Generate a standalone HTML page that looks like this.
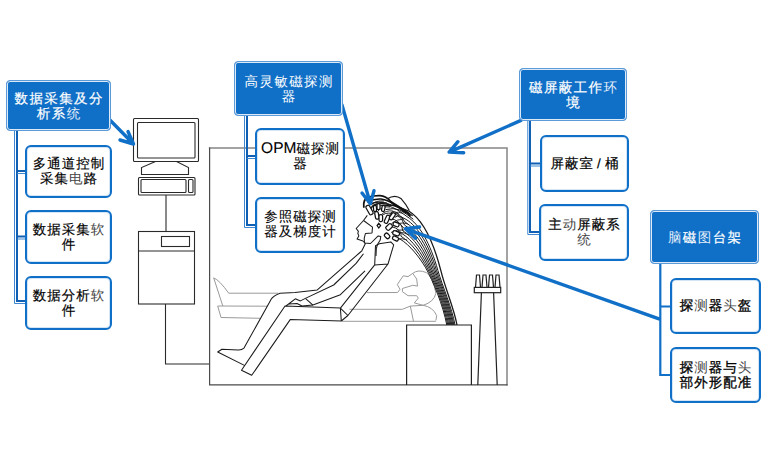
<!DOCTYPE html>
<html><head><meta charset="utf-8">
<style>
html,body{margin:0;padding:0;background:#fff;}
body{width:780px;height:470px;position:relative;overflow:hidden;font-family:"Liberation Sans",sans-serif;text-rendering:geometricPrecision;}
svg.d{position:absolute;left:0;top:0;}
.p{position:absolute;box-sizing:border-box;background:#106FC7;border:1px solid #5d9ad8;box-shadow:inset 0 0 0 1px #dce9f7;border-radius:4px;color:#fff;font-size:13.5px;line-height:15px;letter-spacing:1.4px;text-align:center;display:flex;align-items:center;justify-content:center;}
.c{position:absolute;box-sizing:border-box;background:#fff;border:2px solid #106FC7;box-shadow:inset 0 0 0 1px #d4e5f6;border-radius:6px;color:#000;font-size:13.5px;line-height:15px;letter-spacing:1px;text-align:center;display:flex;align-items:center;justify-content:center;}
.t{display:block;position:relative;top:1.5px;left:0.5px;}
.p .t{left:0.7px;}
.c .t{-webkit-text-stroke:0.18px #000;top:-0.5px;}
.c.bd .t{-webkit-text-stroke:0.32px #000;}
.c.lt .t{-webkit-text-stroke:0.1px #000;top:-1px;}
.p.lt .t{-webkit-text-stroke:0;}
.c .g{color:#444;-webkit-text-stroke:0;}
.p .t{-webkit-text-stroke:0.2px #fff;top:0;}
.p .gw{color:#e4eef9;-webkit-text-stroke:0;}


</style></head><body>
<svg class="d" width="780" height="470" viewBox="0 0 780 470">
  <g fill="none" stroke="#2a2a2a" stroke-width="1.1">
    <!-- monitor -->
    <rect x="133.5" y="118.5" width="65" height="43" rx="1"/>
    <rect x="137.5" y="122.5" width="57.5" height="35.5" rx="1"/>
    <path d="M155.5 161.5 L141.5 167.5 L141.5 174.5 L188.5 174.5 L188.5 167.5 L176.5 161.5"/>
    <rect x="138.5" y="177.5" width="56.5" height="17.5" rx="1"/>
    <rect x="141" y="179.5" width="45" height="13" rx="1"/>
    <rect x="188.5" y="179.5" width="4.5" height="13" rx="1"/>
    <!-- tower -->
    <path d="M166 195 V231.5"/>
    <rect x="138.5" y="231.5" width="56" height="72.5"/>
    <path d="M138.5 251 H194.5"/>
    <rect x="161.5" y="236.5" width="28" height="10"/>
    <path d="M165.5 304 V364 H209.5"/>
  </g>
  <!-- room -->
  <g fill="none" stroke-linecap="square">
    <path d="M209.6 148.1 H507 V384.8" stroke="#858585" stroke-width="1.5"/>
    <path d="M209.6 148.1 V384.8 H507" stroke="#4a4a4a" stroke-width="1.2"/>
  </g>
  <!-- background lying person (gray) -->
  <g fill="none" stroke="#9a9a9a" stroke-width="1">
    <path d="M222.8 306 L213.7 277.9 Q219.4 280 228.7 293.2 L278 293.2"/>
    <path d="M217.7 306 L221 317.5 L260.5 318.3"/>
    <path d="M217.7 306 L267.3 306.2"/>
    <path d="M349.5 309.3 L402.4 309.3 M342 321.3 L435.9 321.3"/>
    <path d="M367 292.6 L397.6 292.5 L400 289.3 L397.3 284.5 L403.2 275.8 L408 276.6 L412.7 273.4 Q418.3 269 426.3 272.6 Q433 277 435.9 293.3 Q434 302 423.1 305.3 L414.3 302.9 L418.3 298.1 L416.7 295.7 L408 295.7 L402.4 291.7 L402.4 288.5 L412.7 285.3 L417.5 286.1 L416.7 279 L412.7 273.4"/>
    <path d="M402.4 309.3 L410.3 306.1 L423.1 305.3 Q433 307 436.7 315.7 L435.9 320.5 M410.3 306.1 L413.5 321.3"/>
  </g>
  <!-- cable box & probe -->
  <g fill="none" stroke="#222" stroke-width="1.2">
    <path d="M406.6 385 V325 H471.4 V385"/>
    <rect x="474.3" y="287.4" width="26.4" height="5.3"/>
    <path d="M481.4 292.7 L477.8 385 M493.6 292.7 L497.2 385"/>
    <path d="M475.5 287.4 L476.5 275 L479.5 275 L480.5 287.4 M482 287.4 L483 275 L486 275 L487 287.4 M488.5 287.4 L489.5 275 L492.5 275 L493.5 287.4 M495 287.4 L496 275 L499 275 L500 287.4"/>
  </g>
  <!-- seated person -->
  <g fill="none" stroke="#1a1a1a" stroke-width="1.05" stroke-linejoin="round">
    <path d="M367.3 215.4 L363.5 220.5 L356.2 228.5 L358.4 231.4 L357.8 233.3 L358.8 235.9 L357.1 239.1 L362.9 241 L365.4 243.5 L361.6 251.2 L360.5 252 L317.3 289.9 L295 292.5 L280 293.2 Q273 296 271.3 299 L244 348.1 Q241.5 350.3 238 350 L221.9 349.3 L217.7 352 L244.9 365.6"/>
    <path d="M363.5 220.5 L372.5 227.2 L372 233 L365.4 233.5 L364.2 238.4 L364.5 243 L370.5 243.5 L378.2 235.9 L380.8 236.5 L380.1 240.3 L377.6 244.2 L376.3 248.6 L376 256"/>
    <path d="M305.4 298.4 L333.7 285 L356.1 263.4 L363.5 253.7"/>
    <path d="M305.4 298.4 L312.9 305.1 L340.4 294.7 L365 270.9"/>
    <path d="M340.4 308.1 L374.7 264.9 L375.5 245.7 L379.3 243.8 L390.8 241.9 L393.7 244.8 L388 264 L347.9 315.5 L341.3 321 L290.2 319.6 L251.7 375.3 L241.5 370.2 L285 306 L340.4 308.1 L341.3 321 M374.7 264.9 L388 264 M340.4 308.1 L347.9 315.5"/>
    <path d="M286 306 L295.3 298.8 L300.4 300.9 L305.4 298.4 M289 304 L297 303.5 L302 306 L312.9 305.1"/>
    
  </g>
  <!-- cables -->
  <g fill="none" stroke="#1a1a1a" stroke-width="1">
<path d="M394.8 237.6 L400.0 239.0 C410.0 245.0 420.0 258.0 425.7 267.8 C433.0 281.0 443.0 305.0 446.8 325.0"/>
<path d="M397 231.2 Q402 232 400.9 236.2 C411.2 242.4 421.3 256.2 427.2 268.1 C434.2 281.7 444.1 305.3 447.8 325.0"/>
<path d="M389.5 227 Q396 226 401.7 233.4 C412.4 239.8 422.6 254.4 428.8 268.5 C435.4 282.4 445.2 305.6 448.8 325.0"/>
<path d="M397 222.7 Q402 223 402.6 230.6 C413.6 237.2 423.9 252.6 430.3 268.8 C436.6 283.1 446.3 305.9 449.9 325.0"/>
<path d="M386.3 220.5 Q394 215 403.5 227.8 C414.8 234.6 425.2 250.8 431.8 269.2 C437.8 283.8 447.4 306.2 450.9 325.0"/>
<path d="M394.8 217.3 Q400 213 404.4 225.0 C416.0 232.0 426.5 249.0 433.4 269.5 C439.0 284.5 448.5 306.5 451.9 325.0"/>
<path d="M390.5 213.1 Q395 207 405.2 222.2 C417.2 229.4 427.8 247.2 434.9 269.8 C440.2 285.2 449.6 306.8 452.9 325.0"/>
<path d="M380.4 219 Q384 207 406.1 219.4 C418.4 226.8 429.1 245.4 436.4 270.2 C441.4 285.9 450.7 307.1 453.9 325.0"/>
<path d="M375.1 208.8 Q385 199 407.0 216.6 C419.6 224.2 430.4 243.6 437.9 270.5 C442.6 286.6 451.8 307.4 455.0 325.0"/>
<path d="M370.3 211 Q372 196 408.7 211.0 C422.0 219.0 433.0 240.0 441.0 271.2 C445.0 288.0 454.0 308.0 457.0 325.0" stroke-width="1.3"/>
    <path d="M387.4 198.8 Q395 194 401.3 198.8 Q406 204 409.3 210.5" stroke-width="1.2"/>
  </g>
  <!-- helmet -->
  <g fill="none" stroke="#111" stroke-linecap="round">
    <path d="M363.8 207 Q363 199 368.5 197.2 Q374 195.5 380 195.7 Q386 196 391 201.8 Q398 206 403 209.5 Q407 212 410 215.7" stroke-width="1.8"/>
    <path d="M368 202 Q374 198.5 381 199 Q388 200 393 204 Q400 208 406 213" stroke-width="1.6"/>
    <path d="M383 206.5 Q391 204 398.5 206.5 Q406 210 412.3 215.7" stroke-width="1.1"/>
    <path d="M386 209.5 Q393 207.5 400 210 Q407 214 413 219" stroke-width="1"/>
    <path d="M372 203.5 Q377 201.5 383 202.5" stroke-width="1.4"/>
  </g>
  <g fill="none" stroke="#1a1a1a" stroke-width="0.9">
    <path d="M371 205 Q376 200 384 201 M375.5 205 Q380 202 387 203 M379 203 Q385 201 391 205 M377.5 211.5 Q382 206 390 207 M381.5 214.5 Q386 210 393 211 M388.5 215.5 Q393 212 399 214 M394.5 213 Q398 211 403 213.5 M391.5 223.5 Q397 219 404 219 M399 223.5 Q403 222 408 224 M391 232.5 Q397 229 404 230 M399.5 232.5 Q404 232 409 235 M398.5 239 Q402 238 407 240"/>
  </g>
  <g fill="#fff" stroke="#111" stroke-width="1.25">
    <rect x="-2" y="-5" width="4" height="10" rx="1.6" transform="translate(369.5 210) rotate(-30)"/>
    <rect x="-1.5" y="-3" width="3" height="6" rx="1.3" transform="translate(375 208.5) rotate(-5)"/>
    <rect x="-1.5" y="-3" width="3" height="6" rx="1.3" transform="translate(378.5 206.5) rotate(0)"/>
    <rect x="-1.5" y="-3" width="3" height="6" rx="1.3" transform="translate(383.3 208.5) rotate(10)"/>
    <rect x="-1.8" y="-3.8" width="3.6" height="7.6" rx="1.5" transform="translate(376.9 215.4) rotate(-10)"/>
    <rect x="-1.8" y="-3.5" width="3.6" height="7" rx="1.5" transform="translate(380.8 218) rotate(0)"/>
    <rect x="-1.8" y="-4.2" width="3.6" height="8.4" rx="1.5" transform="translate(387.1 219.3) rotate(25)"/>
    <rect x="-1.8" y="-3.8" width="3.6" height="7.6" rx="1.5" transform="translate(392.3 216.3) rotate(35)"/>
    <path d="M378.8 223.3 L380.6 225.6 L378.8 228 L377.1 225.6 Z"/>
    <rect x="-2.2" y="-3.4" width="4.4" height="6.8" rx="1.5" transform="translate(389.1 227) rotate(45)"/>
    <rect x="-3" y="-1.9" width="6" height="3.8" rx="1.4" transform="translate(396.1 224.4) rotate(20)"/>
    <rect x="-2" y="-2.8" width="4" height="5.6" rx="1.5" transform="translate(387.1 235.9) rotate(-45)"/>
    <rect x="-3.4" y="-2" width="6.8" height="4" rx="1.5" transform="translate(396.1 233.3) rotate(20)"/>
    <rect x="-3" y="-1.9" width="6" height="3.8" rx="1.4" transform="translate(395.5 238.5) rotate(25)"/>
  </g>
  <!-- connectors -->
  <g fill="none" stroke="#0F5FB5" stroke-width="2">
    <path d="M17 131 V301 H26 M17 171 H26 M17 236.5 H26"/>
    <path d="M247 115 V225 H256 M247 156 H256"/>
    <path d="M530 121 V232 H540 M530 163.5 H540"/>
  </g>
  <g fill="none" stroke="#3D86D2" stroke-width="1">
    <path d="M14.5 131 V303.5 H26 M17 173.5 H26 M17 239 H26"/>
    <path d="M244.5 115 V227.5 H256 M247 158.5 H256"/>
    <path d="M527.8 121 V234.5 H540 M530 166 H540"/>
  </g>
  <g fill="none" stroke="#106FC7" stroke-width="2.2">
    <path d="M660.3 264 V375 H671 M660.3 306.5 H671"/>
  </g>
  <!-- arrows -->
  <g fill="none" stroke="#106FC7" stroke-width="3.4" stroke-linecap="round" stroke-linejoin="round">
    <path d="M102 112 L133.5 144 M128 131.5 L133.5 144 L120 140"/>
    <path d="M342 105 L370.4 203.6 M362 193 L370.4 203.6 L374 190.7"/>
    <path d="M521 120.4 L449.2 152.1 M457.9 141.7 L449.2 152.1 L463.7 152.7"/>
    <path d="M659 318.8 L405.5 228.8 M419.5 227 L405.5 228.8 L415.5 238.3"/>
  </g>
</svg>

<!-- Group A -->
<div class="p" style="left:6px;top:80px;width:105px;height:51px;"><span class="t">数据采集及分<br>析系<span class="gw">统</span></span></div>
<div class="c" style="left:25px;top:145px;width:87px;height:53px;"><span class="t">多通道控制<br>采集<span class="g">电</span>路</span></div>
<div class="c" style="left:25px;top:210px;width:87px;height:54px;"><span class="t">数据采集<span class="g">软</span><br>件</span></div>
<div class="c" style="left:25px;top:276px;width:87px;height:54px;"><span class="t">数据分析<span class="g">软</span><br>件</span></div>

<!-- Group B -->
<div class="p lt" style="left:234px;top:61px;width:109px;height:55px;"><span class="t">高灵敏磁探测<br>器</span></div>
<div class="c lt" style="left:255px;top:128px;width:90px;height:57px;"><span class="t"><span style="font-size:15.5px;letter-spacing:0">OPM</span>磁探测<br>器</span></div>
<div class="c lt" style="left:255px;top:197px;width:90px;height:56px;"><span class="t">参照磁探测<br>器及梯度计</span></div>

<!-- Group C -->
<div class="p" style="left:519px;top:68px;width:108px;height:53px;"><span class="t">磁屏蔽工作<span class="gw">环</span><br>境</span></div>
<div class="c" style="left:540px;top:135px;width:89px;height:57px;"><span class="t">屏蔽室<span style="margin:0 3px">/</span>桶</span></div>
<div class="c" style="left:539px;top:204px;width:90px;height:57px;"><span class="t">主<span class="g">动</span>屏蔽系<br><span class="g">统</span></span></div>

<!-- Group D -->
<div class="p" style="left:650px;top:210px;width:109px;height:54px;"><span class="t"><span class="gw">脑</span>磁<span class="gw">图</span>台架</span></div>
<div class="c bd" style="left:670px;top:278px;width:91px;height:56px;"><span class="t">探<span class="g">测</span>器<span class="g">头</span>盔</span></div>
<div class="c bd" style="left:670px;top:347px;width:91px;height:56px;"><span class="t">探<span class="g">测</span>器与<span class="g">头</span><br>部外形配准</span></div>

</body></html>
